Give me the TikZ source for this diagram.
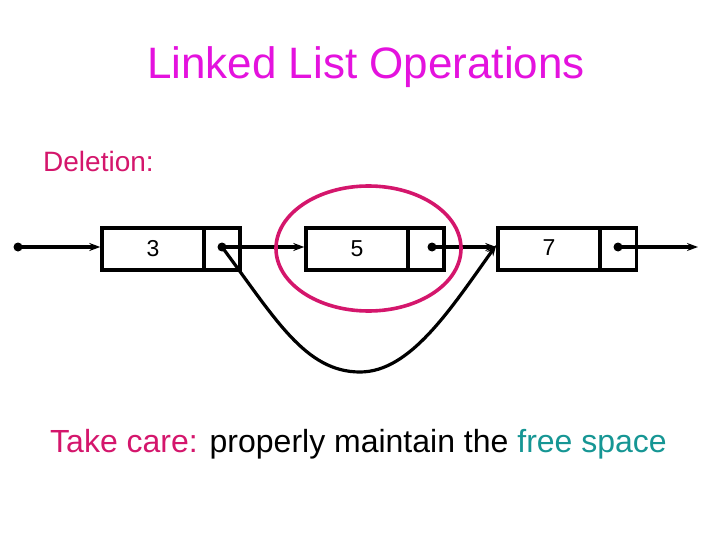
\documentclass[tikz,border=0pt]{standalone}
\usepackage{fontspec}
\setmainfont{Liberation Sans}
\usetikzlibrary{arrows.meta}
\definecolor{titlemag}{RGB}{228,18,222}
\definecolor{crim}{RGB}{212,22,108}
\definecolor{tealc}{RGB}{22,150,148}
\begin{document}
\begin{tikzpicture}[x=1pt,y=-1pt,
  databox/.style={draw,line width=3.4pt,minimum width=102pt,minimum height=42pt,inner sep=0pt,font=\fontsize{23}{26}\selectfont},
  ptrbox/.style={draw,line width=3.4pt,minimum width=36pt,minimum height=42pt,inner sep=0pt},
  link/.style={line width=3.2pt,-{Stealth[length=11pt,width=8pt]}},
  dot/.style={circle,fill,inner sep=0pt,minimum size=9pt}]
\useasboundingbox (0,0) rectangle (720,540);
\node[text=titlemag,font=\fontsize{44}{48}\selectfont] (title) at (366,67) {Linked List Operations};
\node[text=crim,font=\fontsize{28}{32}\selectfont,anchor=base west,inner sep=0pt] (del) at (43,172) {Deletion:};
\node[databox] (d1) at (153,249) {\raisebox{-3pt}{3}};
\node[ptrbox] (p1) at (222,249) {};
\node[databox] (d2) at (357,249) {\raisebox{-3pt}{5}};
\node[ptrbox] (p2) at (426,249) {};
\node[databox] (d3) at (549,249) {\raisebox{3pt}{7}};
\node[ptrbox] (p3) at (618.5,249) {};
\node[dot] (s0) at (18,247) {};
\node[dot] (s1) at (222,247) {};
\node[dot] (s2) at (432,247) {};
\node[dot] (s3) at (618,247) {};
\coordinate (e3) at (698,247);
\draw[link] (s0.center) -- (d1.west |- s0.center);
\draw[link] (s1.center) -- (d2.west |- s1.center);
\draw[link] (s2.center) -- (d3.west |- s2.center);
\draw[link] (s3.center) -- (e3);
\draw[link] (s1.center) .. controls (275,318) and (305,372) .. (360,372) .. controls (410,372) and (450,310) .. ([yshift=4pt]d3.west);
\draw[crim,line width=3.6pt] (368.5,248.5) ellipse [x radius=92.5,y radius=62.5];
\node[font=\fontsize{32}{36}\selectfont,anchor=base west,inner sep=0pt] (note) at (50,452) {\textcolor{crim}{Take care:} properly maintain the \textcolor{tealc}{free space}};
\end{tikzpicture}
\end{document}
